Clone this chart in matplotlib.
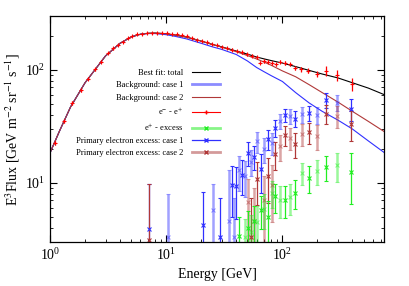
import numpy as np
import matplotlib.pyplot as plt
from matplotlib.lines import Line2D

plt.rcParams['font.family'] = ['Liberation Serif', 'DejaVu Serif']
plt.rcParams['mathtext.fontset'] = 'stix'

# fit curves
fit_E = [1.0, 1.2, 1.5, 2.0, 2.5, 3.0, 4.0, 5.0, 6.0, 7.0, 8.0, 10, 12, 15, 20, 25, 30,
         40, 50, 60, 70, 80, 100, 130, 170, 220, 300, 400, 550, 750]
fit_total = [18.5, 28.5, 47, 77, 104, 133, 172, 196, 207, 211, 212, 209, 203, 195, 180, 168, 160,
             147, 138, 130, 125, 121, 115, 107, 99, 92, 85, 77, 69, 60.5]
bg_case1 = [18.5, 28.5, 47, 77, 104, 133, 172, 196, 207, 210, 210, 205, 198, 188, 172, 160, 152,
            137, 120, 105, 96, 89, 79, 63, 51, 43, 36, 30, 23.5, 18.6]
bg_case2 = [18.5, 28.5, 47, 77, 104, 133, 172, 196, 207, 211, 212, 209, 203, 195, 180, 168, 159,
            145, 134, 125, 117, 110, 98, 87, 74, 63, 52, 43, 35, 28.5]

# e- - e+ data
data_E = [1.10, 1.32, 1.55, 1.83, 2.11, 2.44, 2.74, 3.13, 3.45, 3.81, 4.21, 4.64, 5.12, 5.65,
          6.23, 6.88, 7.59, 8.37, 9.23, 10.2, 11.2, 12.4, 13.7, 15.1, 16.6, 18.4, 20.3, 22.4,
          24.7, 27.2, 30.1, 33.2, 36.6, 40.4, 44.6, 49.2, 54.3, 59.9, 64.1, 69.8, 75.5, 81.7,
          88.9, 95.5, 105, 116, 129, 145, 166, 198, 238, 295, 394]
data_F = [22.6, 35.3, 50.6, 66.4, 83.8, 101, 118, 141, 155, 167, 177, 190, 198, 206,
          209, 211, 213, 214, 214, 213, 210, 206, 203, 198, 191, 185, 180, 175,
          170, 166, 160, 156, 151, 147, 143, 138, 134, 130, 116, 120, 118, 115,
          112, 118, 115, 112, 104, 101, 98, 92, 98, 90, 74.7]
data_err = [1.0, 1.5, 2, 2.5, 3, 3.5, 4, 4, 4, 4, 4, 4, 4, 4,
            4, 4, 4, 4, 4, 4, 4, 4, 4, 4, 4, 4, 4, 4,
            4, 4, 4, 4, 4, 4, 4, 4, 4, 4, 4, 4, 4, 4,
            4, 4, 4, 4, 4, 5, 5, 5, 10, 10, 10]

# primary electron excess, case 1
ex1_E = [7.1, 10.3, 20.6, 25.2, 29.2, 34.4, 36.6, 38.1, 40.0, 42.4, 44.8, 47.7, 50.2, 53.7,
         57.3, 60.8, 64.9, 69.8, 74.5, 80.6, 87.1, 95.5, 105, 116, 129, 147, 168, 198,
         238, 295, 389]
ex1_F = [3.9, 3.33, 4.27, 5.7, 3.3, 4.6, 9.5, 3.32, 9.3, 12.9, 11.8, 11.5, 18.5, 15.4,
         17.1, 23.5, 13.2, 20.1, 24.6, 22.7, 30.8, 35.3, 39.9, 39.1, 37.0, 40.5, 41.9, 39.9,
         53.9, 51.4, 45.4]
ex1_err = [5.8, 4.6, 4.0, 4.1, 4.0, 8.5, 4.5, 4.0, 4.5, 4.5, 4.0, 4.0, 4.5, 4.0,
           4.0, 5.0, 5.0, 5.0, 5.0, 5.0, 5.5, 5.5, 5.5, 6.0, 6.0, 6.5, 6.5, 7.0,
           8.0, 8.5, 10.0]

# primary electron excess, case 2
ex2_E = [7.1, 50.2, 53.7, 57.3, 60.8, 69.8, 74.5, 80.6, 87.1, 95.5, 105, 116, 129, 147,
         168, 198, 238, 295, 389]
ex2_F = [3.1, 6.8, 3.3, 4.6, 10.9, 7.0, 11.6, 9.5, 17.9, 21.2, 26.5, 25.1, 22.2, 27.3,
         28.2, 25.9, 41.0, 39.1, 33.4]
ex2_err = [6.6, 4.0, 4.0, 4.5, 4.5, 4.5, 5.0, 5.0, 5.0, 5.5, 5.5, 5.5, 5.5, 6.0,
           6.0, 6.5, 8.0, 8.5, 10.0]

# positron excess
pos_E = [42.4, 47.7, 50.2, 53.7, 57.3, 60.8, 64.9, 69.8, 74.5, 80.6, 87.1, 95.5, 105, 116,
         129, 147, 168, 198, 238, 295, 389]
pos_F = [3.4, 3.3, 4.0, 3.7, 4.56, 4.5, 5.8, 5.9, 4.97, 8.2, 7.6, 7.1, 7.1, 7.5,
         8.2, 12.3, 11.1, 12.7, 13.9, 14.3, 12.5]
pos_err = [1.6, 1.5, 1.6, 1.5, 1.7, 1.8, 1.9, 2.0, 2.0, 2.2, 2.2, 2.2, 2.2, 2.3,
           2.3, 2.8, 3.0, 3.2, 3.5, 4.2, 6.0]

c_blue = '#3030ff'
c_brown = '#b03838'
c_red = '#ff0000'
c_green = '#22ee22'


def excess(ax, E, F, err, color):
    E, F, err = np.array(E), np.array(F), np.array(err)
    for k, (a, lw) in enumerate([(1.0, 0.9), (0.45, 1.8)]):
        idx = np.arange(len(E)) % 2 == k
        ax.errorbar(E[idx], F[idx], yerr=err[idx], fmt='x', color=color, ms=2.2,
                    mew=0.8, elinewidth=lw, capsize=1.3, capthick=0.8, alpha=a)


fig = plt.figure(figsize=(4.09, 2.86), dpi=100)
ax = fig.add_axes([0.1225, 0.154, 0.8165, 0.79])

ax.plot(fit_E, fit_total, color='black', lw=0.8)
ax.plot(fit_E, bg_case1, color=c_blue, lw=0.8)
ax.plot(fit_E, bg_case2, color=c_brown, lw=0.8)
ax.errorbar(data_E, data_F, yerr=data_err, fmt='+', color=c_red, ms=2.2, mew=0.8,
            elinewidth=0.9, capsize=0)
excess(ax, ex1_E, ex1_F, ex1_err, c_blue)
excess(ax, ex2_E, ex2_F, ex2_err, c_brown)
excess(ax, pos_E, pos_F, pos_err, c_green)

ax.set_xscale('log')
ax.set_yscale('log')
ax.set_xlim(1, 750)
ax.set_ylim(3, 300)
ax.tick_params(which='both', direction='in', top=True, right=True, labelsize=10)
ax.tick_params(which='major', length=5, width=0.8)
ax.tick_params(which='minor', length=2.5, width=0.6)
ax.yaxis.set_minor_formatter(plt.NullFormatter())
for s in ax.spines.values():
    s.set_linewidth(0.9)
ax.set_xlabel('Energy [GeV]', fontsize=10)
ax.set_ylabel(r'E$^3$Flux [GeV m$^{-2}$ sr$^{-1}$ s$^{-1}$]', fontsize=10, labelpad=2)

handles = [
    Line2D([], [], color='black', lw=0.8),
    Line2D([], [], color='#8c8cff', lw=2),
    Line2D([], [], color=c_brown, lw=0.8),
    Line2D([], [], color=c_red, lw=0.8, marker='+', ms=2.5),
    Line2D([], [], color='#88f588', lw=2, marker='x', ms=2.5, mec=c_green),
    Line2D([], [], color=c_blue, lw=0.9, marker='x', ms=2.5),
    Line2D([], [], color='#d49a9a', lw=2, marker='x', ms=2.5, mec=c_brown),
]
labels = ['Best fit: total', 'Background: case 1', 'Background: case 2',
          r'e$^{-}$ - e$^{+}$', r'e$^{+}$ - excess',
          'Primary electron excess: case 1', 'Primary electron excess: case 2']
ax.legend(handles, labels, loc='upper right', bbox_to_anchor=(0.52, 0.78), frameon=False,
          markerfirst=False, fontsize=6.1, handlelength=3.3, handletextpad=1.1,
          labelspacing=0.5, borderaxespad=0)

fig.savefig('out.png', dpi=100)
